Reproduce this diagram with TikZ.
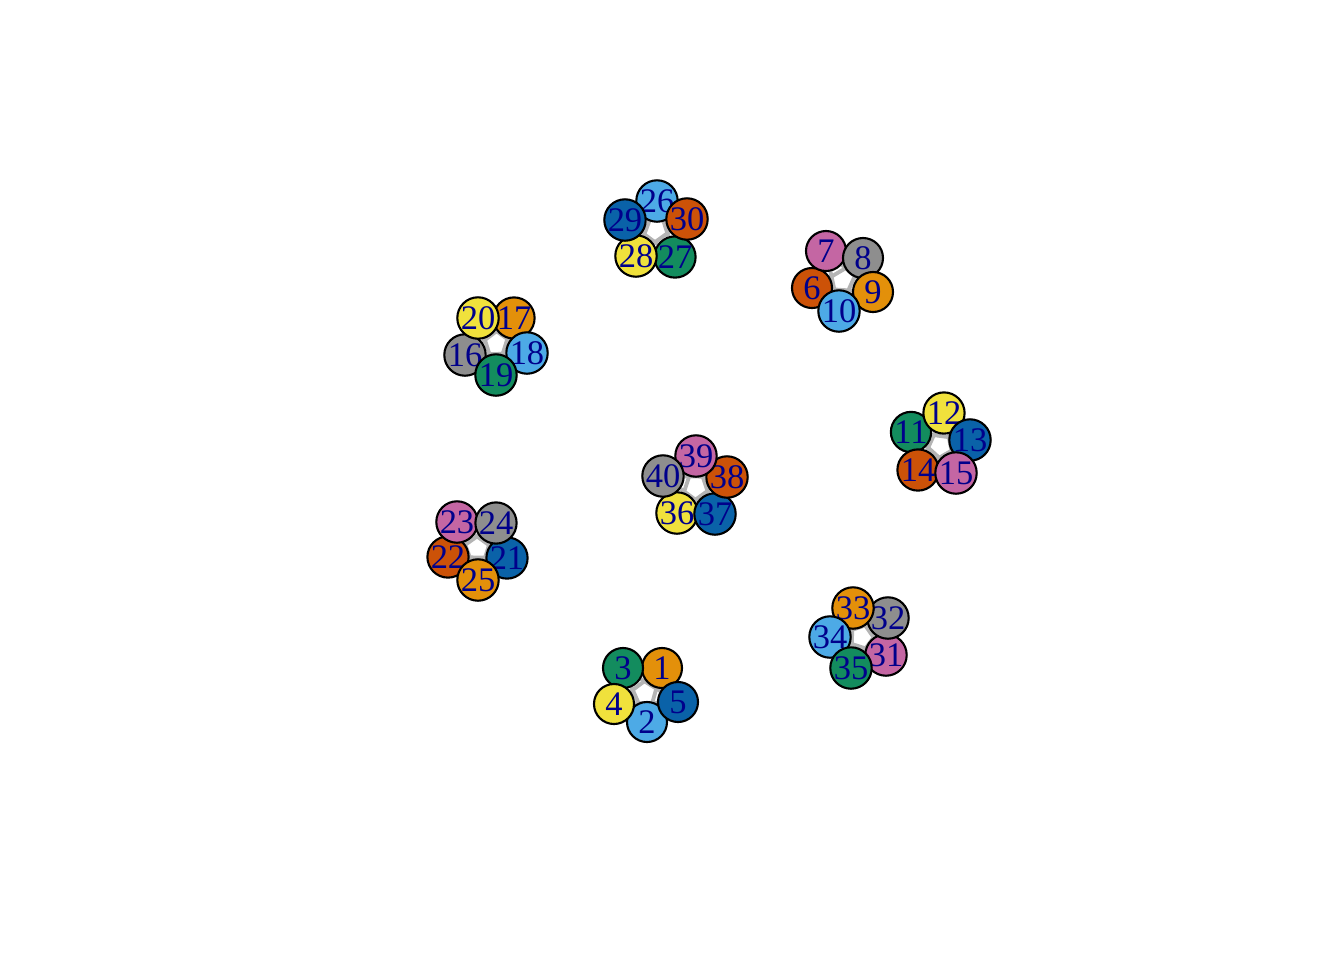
\documentclass[tikz,border=0pt]{standalone}
\usepackage{fontspec}
\setmainfont{Liberation Serif}
\usetikzlibrary{backgrounds}
\definecolor{pOrange}{HTML}{E3900A}
\definecolor{pSky}{HTML}{4DAAE6}
\definecolor{pGreen}{HTML}{138C5E}
\definecolor{pYellow}{HTML}{F0E13C}
\definecolor{pBlue}{HTML}{0A62A8}
\definecolor{pVerm}{HTML}{CC5208}
\definecolor{pPurple}{HTML}{C466A3}
\definecolor{pGray}{HTML}{8E8E8E}
\definecolor{lblcol}{HTML}{00008B}
\definecolor{edgecol}{HTML}{B4B4B4}

\begin{document}
\begin{tikzpicture}[
  x=0.01cm, y=-0.01cm,
  v/.style={circle, draw=black, line width=0.6pt, minimum size=0.4cm, inner sep=0pt,
    text=lblcol, font=\fontsize{9.8}{10}\selectfont},
  c1/.style={v, fill=pOrange}, c2/.style={v, fill=pSky},
  c3/.style={v, fill=pGreen},  c4/.style={v, fill=pYellow},
  c5/.style={v, fill=pBlue},   c6/.style={v, fill=pVerm},
  c7/.style={v, fill=pPurple}, c8/.style={v, fill=pGray},
  edge/.style={draw=edgecol, line width=1.1pt}
]
\useasboundingbox (0,0) rectangle (1344,960);
% cluster 1-5
\node[c1] (n1) at (662,668) {1};
\node[c2] (n2) at (647,722) {2};
\node[c3] (n3) at (623,668) {3};
\node[c4] (n4) at (614,704) {4};
\node[c5] (n5) at (678,702) {5};
% cluster 6-10
\node[c6] (n6) at (812,288) {6};
\node[c7] (n7) at (826,251) {7};
\node[c8] (n8) at (863,258) {8};
\node[c1] (n9) at (873,292) {9};
\node[c2] (n10) at (839,311) {10};
% cluster 11-15
\node[c3] (n11) at (911,432) {11};
\node[c4] (n12) at (944,413) {12};
\node[c5] (n13) at (970,440) {13};
\node[c6] (n14) at (918,470) {14};
\node[c7] (n15) at (956,473) {15};
% cluster 16-20
\node[c8] (n16) at (465,355) {16};
\node[c1] (n17) at (514,318) {17};
\node[c2] (n18) at (527,353) {18};
\node[c3] (n19) at (496,375) {19};
\node[c4] (n20) at (478,318) {20};
% cluster 21-25
\node[c5] (n21) at (507,558) {21};
\node[c6] (n22) at (448,557) {22};
\node[c7] (n23) at (457,522) {23};
\node[c8] (n24) at (496,523) {24};
\node[c1] (n25) at (478,580) {25};
% cluster 26-30
\node[c2] (n26) at (657,201) {26};
\node[c3] (n27) at (675,257) {27};
\node[c4] (n28) at (636,256) {28};
\node[c5] (n29) at (625,220) {29};
\node[c6] (n30) at (687,219) {30};
% cluster 31-35
\node[c7] (n31) at (886,655) {31};
\node[c8] (n32) at (888,618) {32};
\node[c1] (n33) at (853,608) {33};
\node[c2] (n34) at (830,637) {34};
\node[c3] (n35) at (851,668) {35};
% cluster 36-40
\node[c4] (n36) at (677,513) {36};
\node[c5] (n37) at (715,514) {37};
\node[c6] (n38) at (727,477) {38};
\node[c7] (n39) at (696,456) {39};
\node[c8] (n40) at (663,476) {40};
% edges: every pair within a cluster
\begin{scope}[on background layer]
\foreach \b in {0,5,...,35}
  \foreach \i in {1,...,4}
    \foreach \j in {\i,...,5}{
      \ifnum\i<\j
        \pgfmathtruncatemacro{\p}{\b+\i}
        \pgfmathtruncatemacro{\q}{\b+\j}
        \draw[edge] (n\p) -- (n\q);
      \fi
    }
\end{scope}
\end{tikzpicture}
\end{document}
